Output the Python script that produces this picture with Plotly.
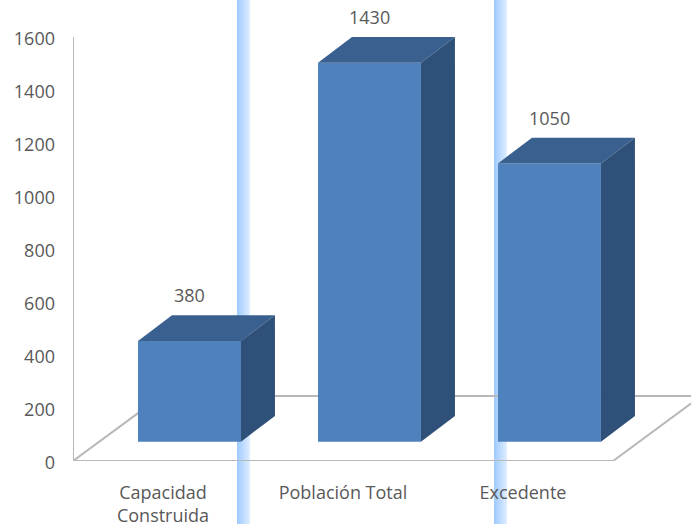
import plotly.graph_objects as go

# Chart content
categories = ["Capacidad<br>Construida", "Población Total", "Excedente"]
values = [380, 1430, 1050]
y_ticks = [0, 200, 400, 600, 800, 1000, 1200, 1400, 1600]

# Pseudo-3D projection, in axis units
BAR_SHIFT = 0.147      # bars stand further back on the floor than their category centre
BAR_WIDTH = 0.572
BAR_BASE = 73          # front face lifted above zero
DEPTH_X = 0.189
DEPTH_Y = 97
FLOOR_X = 0.49
FLOOR_Y = 245

FRONT = "#4f81bd"
TOP = "#3a608f"
SIDE = "#2f5078"
AXIS = "#b8b8b8"
TEXT = "#595959"
FONT = "'Open Sans', sans-serif"
FONT_SIZE = 18

W, H = 691, 524
M_L, M_R, M_T, M_B = 73, 0, 37, 63
plot_w, plot_h = W - M_L - M_R, H - M_T - M_B

fig = go.Figure()

# Floor of the 3D box, on the lower axes so the bars cover it
x_min, x_max = -0.5, 2.5
fig.add_trace(go.Scatter(
    x=[x_min, x_max, x_max + FLOOR_X, x_min + FLOOR_X, x_min],
    y=[0, 0, FLOOR_Y, FLOOR_Y, 0],
    mode="lines", line=dict(color=AXIS, width=2),
    cliponaxis=False, hoverinfo="skip", showlegend=False,
))

# Back wall edge along the value axis
fig.add_trace(go.Scatter(
    x=[x_min, x_min], y=[0, y_ticks[-1]],
    mode="lines", line=dict(color=AXIS, width=2),
    cliponaxis=False, hoverinfo="skip", showlegend=False,
))

# Front faces
centres = [i + BAR_SHIFT for i in range(len(values))]
fig.add_trace(go.Bar(
    x=centres, y=values, base=BAR_BASE, width=BAR_WIDTH,
    marker=dict(color=FRONT, line=dict(width=0)),
    xaxis="x2", yaxis="y2",
    hoverinfo="skip", showlegend=False,
))

# Top and side faces derived from each bar's value
for cx, v in zip(centres, values):
    left, right = cx - BAR_WIDTH / 2, cx + BAR_WIDTH / 2
    low, high = BAR_BASE, BAR_BASE + v
    fig.add_trace(go.Scatter(
        x=[left, right, right + DEPTH_X, left + DEPTH_X, left],
        y=[high, high, high + DEPTH_Y, high + DEPTH_Y, high],
        fill="toself", fillcolor=TOP, mode="none",
        xaxis="x2", yaxis="y2",
        cliponaxis=False, hoverinfo="skip", showlegend=False,
    ))
    fig.add_trace(go.Scatter(
        x=[right, right + DEPTH_X, right + DEPTH_X, right, right],
        y=[low, low + DEPTH_Y, high + DEPTH_Y, high, low],
        fill="toself", fillcolor=SIDE, mode="none",
        xaxis="x2", yaxis="y2",
        cliponaxis=False, hoverinfo="skip", showlegend=False,
    ))

# Value labels, anchored to the back edge of each bar's top face
annotations = [
    dict(
        x=cx, y=v + BAR_BASE + DEPTH_Y, xref="x2", yref="y2", yshift=20,
        text=str(v), showarrow=False, xanchor="center", yanchor="middle",
        font=dict(family=FONT, size=FONT_SIZE, color=TEXT),
    )
    for cx, v in zip(centres, values)
]

# Pale blue vertical bands with a horizontal fade, behind everything
shapes = []
for start in (237, 494):
    for k in range(13):
        t = k / 12
        r = round(159 + (222 - 159) * t)
        g = round(203 + (237 - 203) * t)
        shapes.append(dict(
            type="rect", layer="below", xref="paper", yref="paper",
            x0=(start + k - M_L) / plot_w, x1=(start + k + 1 - M_L) / plot_w,
            y0=-M_B / plot_h, y1=(plot_h + M_T) / plot_h,
            fillcolor=f"rgb({r},{g},255)", line=dict(width=0),
        ))

x_range = [x_min, x_min + plot_w / 180]
y_range = [y_ticks[0], y_ticks[-1]]

fig.update_layout(
    width=W, height=H, autosize=False,
    margin=dict(l=M_L, r=M_R, t=M_T, b=M_B, autoexpand=False),
    plot_bgcolor="rgba(0,0,0,0)", paper_bgcolor="white",
    shapes=shapes, annotations=annotations,
    font=dict(family=FONT, size=FONT_SIZE, color=TEXT),
    xaxis=dict(
        range=x_range, automargin=False,
        tickmode="array", tickvals=list(range(len(categories))), ticktext=categories,
        showgrid=False, zeroline=False, showline=False, ticks="",
        ticklabelstandoff=19, tickangle=0,
        tickfont=dict(family=FONT, size=FONT_SIZE, color=TEXT),
    ),
    yaxis=dict(
        range=y_range, automargin=False,
        tickmode="array", tickvals=y_ticks,
        showgrid=False, zeroline=False, showline=False, ticks="",
        ticklabelstandoff=17, ticklabelshift=2,
        tickfont=dict(family=FONT, size=FONT_SIZE, color=TEXT),
    ),
    # Overlay axes keep the bars above the floor lines
    xaxis2=dict(range=x_range, overlaying="x", visible=False),
    yaxis2=dict(range=y_range, overlaying="y", visible=False),
)

fig.write_html("out.html", config=dict(displayModeBar=False))
